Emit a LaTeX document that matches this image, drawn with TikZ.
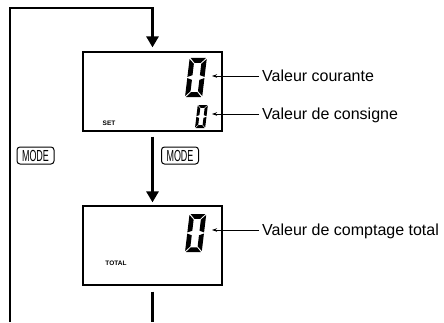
\documentclass[tikz,border=0pt]{standalone}
\usepackage{fontspec}
\setmainfont{Liberation Sans}
\usepackage{graphicx}
\usetikzlibrary{arrows.meta}

\tikzset{
  flow/.style={line width=2.8pt},
  flowarrow/.style={flow,-{Triangle[length=11pt,width=12pt]}},
  lcd/.style={draw,line width=1.2pt,minimum width=139pt,minimum height=79pt,inner sep=0pt},
  pointer/.style={line width=0.8pt,-{Stealth[length=5pt,width=3.5pt]}},
  callout/.style={anchor=west,inner xsep=3pt,inner ysep=0pt,text height=11.5pt,text depth=0pt,
    font=\fontsize{16}{19}\selectfont},
  modekey/.style={draw,rounded corners=3pt,line width=1pt,minimum width=37pt,minimum height=17pt,
    inner sep=0pt,font=\fontsize{16}{16}\selectfont},
  tag/.style={inner sep=0pt,font=\fontsize{6.5}{7}\selectfont\bfseries}
}

% seven segment zero, #1/#2 lower left corner, #3 size of one unit
\newcommand{\lcdzero}[3]{%
  \begin{scope}[shift={(#1,#2)},scale=#3,xslant=0.12]
    \fill (0.05,2) -- (0.83,2) -- (0.6,1.75) -- (0.28,1.75) -- cycle;
    \fill (0.05,0) -- (0.83,0) -- (0.6,0.25) -- (0.28,0.25) -- cycle;
    \fill (0,1.95) -- (0.25,1.7) -- (0.25,1.12) -- (0,1.03) -- cycle;
    \fill (0,0.05) -- (0.25,0.3) -- (0.25,0.88) -- (0,0.97) -- cycle;
    \fill (0.88,1.95) -- (0.63,1.7) -- (0.63,1.12) -- (0.88,1.03) -- cycle;
    \fill (0.88,0.05) -- (0.63,0.3) -- (0.63,0.88) -- (0.88,0.97) -- cycle;
  \end{scope}}

\begin{document}
\begin{tikzpicture}[x=1pt,y=1pt]
  \useasboundingbox (0,0) rectangle (444,322);
  % Displays
  \node[lcd] (lcda) at (152.5,230.5) {};
  \node[lcd] (lcdb) at (152.5,76.5) {};
  \node[tag] (set) at (109,199) {SET};
  \node[tag] (total) at (116,59) {TOTAL};
  % Digits
  \lcdzero{185}{225}{19.5}
  \lcdzero{195}{194}{11.5}
  \lcdzero{185}{70}{19}
  % Pointers to the digits
  \coordinate (cur) at (212,246);
  \coordinate (cons) at (212,208);
  \coordinate (tot) at (212,92);
  \node[callout] (lcur) at (259,246) {Valeur courante};
  \node[callout] (lcons) at (259,208) {Valeur de consigne};
  \node[callout] (ltot) at (259,92) {Valeur de comptage total};
  \foreach \from/\to in {lcur/cur, lcons/cons, ltot/tot} {
    \draw[pointer] (\from.west) -- (\to);
  }
  % Mode keys
  \node[modekey] (keya) at (35.5,166.5) {\scalebox{0.56}[1]{MODE}};
  \node[modekey] (keyb) at (180,166.5) {\scalebox{0.56}[1]{MODE}};
  % Loop
  \coordinate (loopl) at (10,0);
  \coordinate (loopb) at (152.5,0);
  \draw[flowarrow,shorten >=4pt] (loopl) |- (152.5,314) -- (lcda.north);
  \draw[flowarrow,shorten <=5pt,shorten >=3pt] (lcda.south) -- (lcdb.north);
  \draw[flow,shorten <=6pt] (lcdb.south) -- (loopb);
\end{tikzpicture}
\end{document}
